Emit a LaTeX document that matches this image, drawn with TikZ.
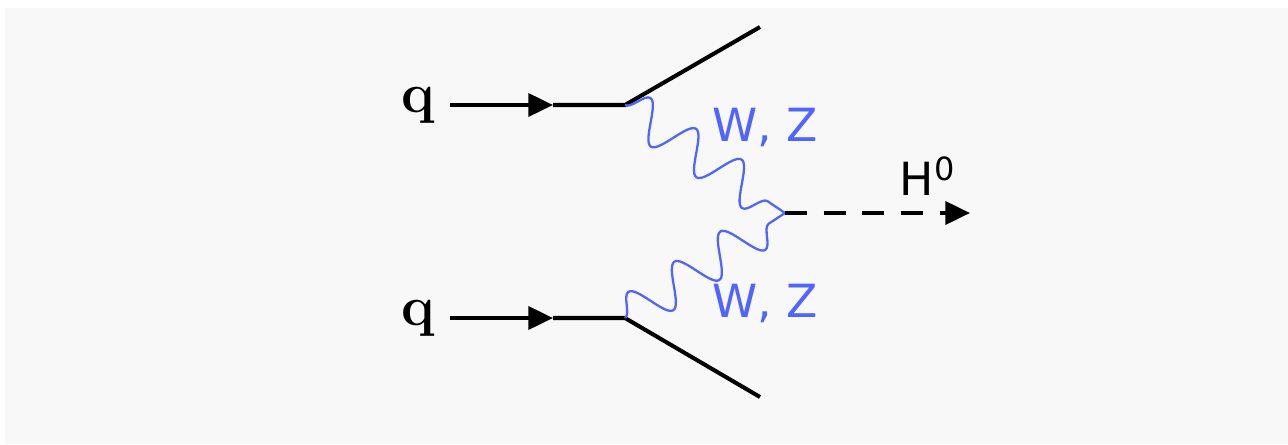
\documentclass[tikz,border=0pt]{standalone}
\usepackage{fontspec}
\setsansfont{DejaVu Sans}
\usetikzlibrary{arrows.meta,decorations.pathmorphing}
\definecolor{bggray}{HTML}{F8F8F8}
\definecolor{wzblue}{RGB}{80,100,255}
\tikzset{
  quark/.style={line width=1.15pt,black},
  boson/.style={wzblue,line width=0.65pt,decorate,decoration={snake,segment length=0.55cm,amplitude=0.2cm}},
  higgs/.style={line width=1.15pt,dash pattern=on 6.3pt off 4.7pt,-{Triangle[length=7pt,width=6.5pt]}},
  tip/.style={-{Triangle[length=7pt,width=6.5pt]}},
  qlabel/.style={font=\fontsize{16}{18}\selectfont\bfseries},
  wzlabel/.style={font=\fontsize{13}{15}\sffamily,text=wzblue},
}
\begin{document}
\begin{tikzpicture}
\useasboundingbox (0,0) rectangle (12.88,4.44);
\fill[bggray] (0.05,0) rectangle (12.88,4.36);
% upper quark line
\node[qlabel] (qa) at (4.18,3.39) {q};
\coordinate (qas) at (4.50,3.39);
\coordinate (qam) at (5.53,3.39);
\coordinate (va) at (6.25,3.39);
\coordinate (oa) at (7.60,4.17);
\draw[quark,tip] (qas) -- (qam);
\draw[quark] (qam) -- (va) -- (oa);
% lower quark line
\node[qlabel] (qb) at (4.18,1.26) {q};
\coordinate (qbs) at (4.50,1.26);
\coordinate (qbm) at (5.53,1.26);
\coordinate (vb) at (6.25,1.26);
\coordinate (ob) at (7.60,0.47);
\draw[quark,tip] (qbs) -- (qbm);
\draw[quark] (qbm) -- (vb) -- (ob);
% bosons and higgs
\coordinate (vh) at (7.85,2.31);
\coordinate (he) at (9.70,2.31);
\draw[boson] (va) -- (vh);
\draw[boson] (vb) -- (vh);
\draw[higgs] (vh) -- (he);
\node[wzlabel] (wza) at (7.65,3.17) {W, Z};
\node[wzlabel] (wzb) at (7.65,1.41) {W, Z};
\node[font=\fontsize{13}{15}\sffamily] (h0) at (9.28,2.68) {H\textsuperscript{0}};
\end{tikzpicture}
\end{document}
